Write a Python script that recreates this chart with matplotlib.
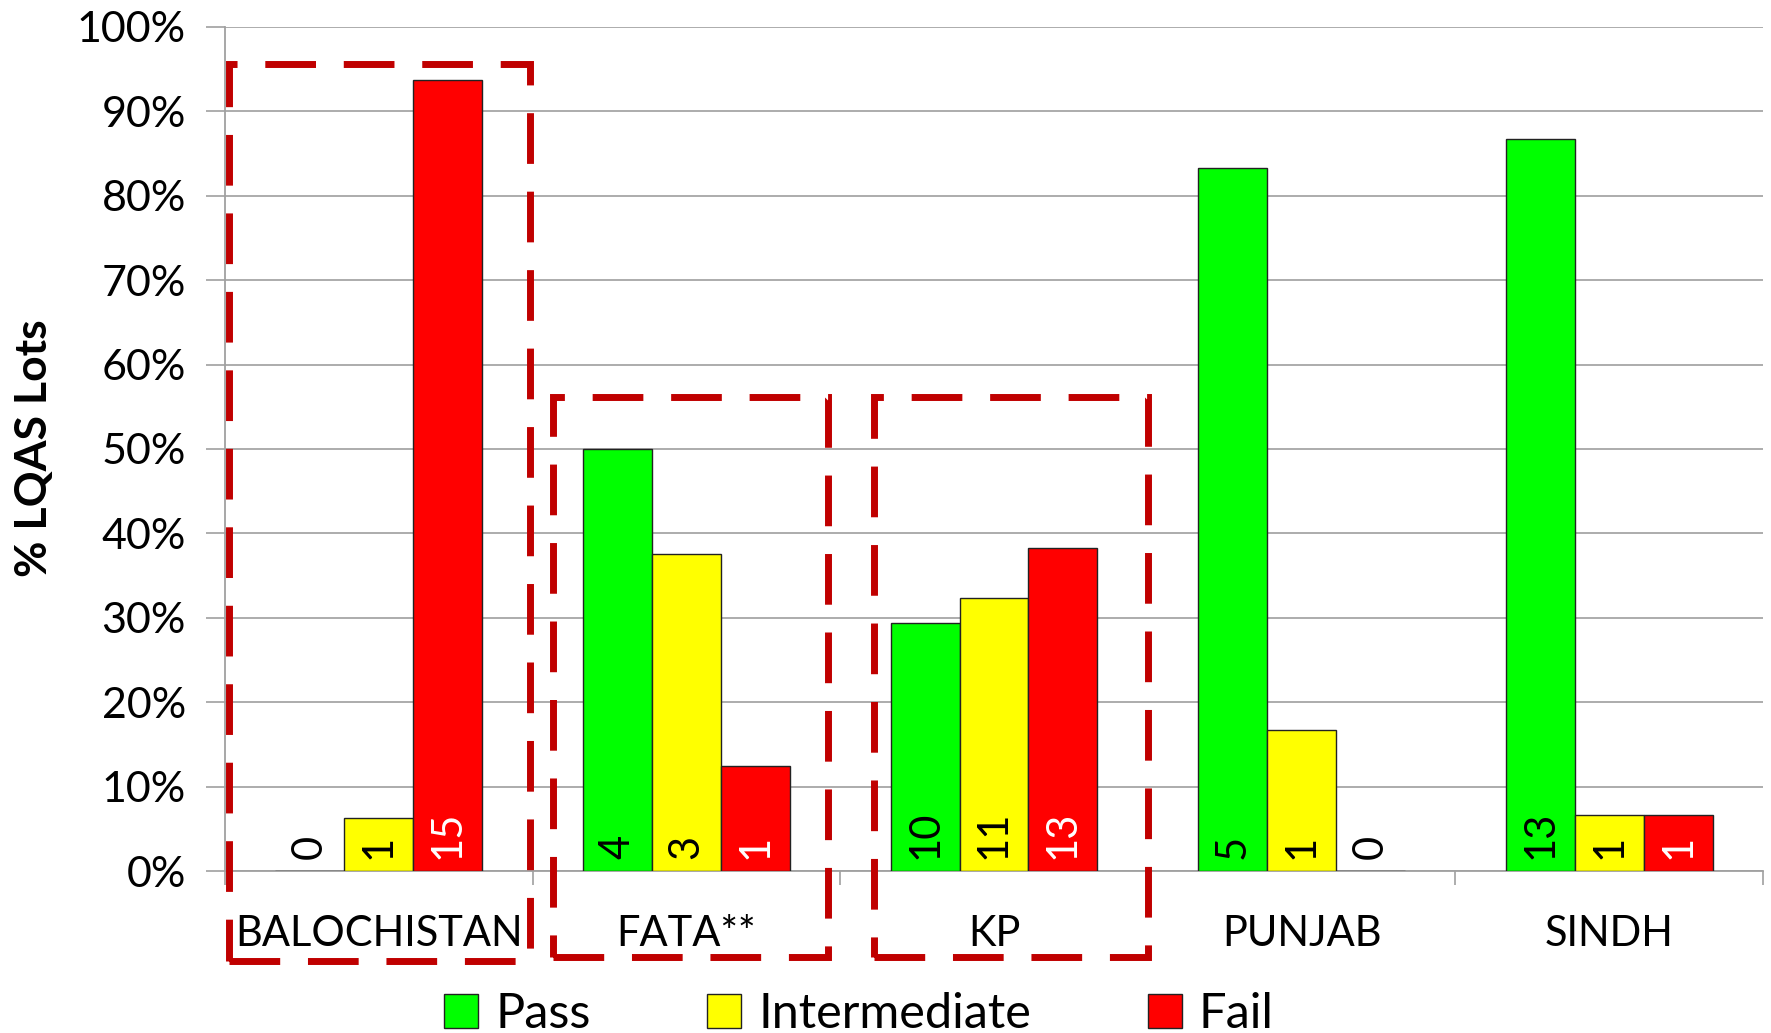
import matplotlib
matplotlib.use("Agg")
import matplotlib.pyplot as plt
import numpy as np
from matplotlib.patches import Rectangle, Patch

# lot counts per province
provinces = ["BALOCHISTAN", "FATA**", "KP", "PUNJAB", "SINDH"]
pass_lots = [0, 4, 10, 5, 13]
intermediate_lots = [1, 3, 11, 1, 1]
fail_lots = [15, 1, 13, 0, 1]

series_names = ["Pass", "Intermediate", "Fail"]
series_colors = ["#00FF00", "#FFFF00", "#FF0000"]
label_colors = ["black", "black", "white"]

plt.rcParams["font.family"] = ["Lato", "DejaVu Sans"]

counts = np.array([pass_lots, intermediate_lots, fail_lots], dtype=float)
totals = counts.sum(axis=0)
percents = counts / totals * 100

fig = plt.figure(figsize=(17.71, 10.33), dpi=100)
ax = fig.add_axes([0.127, 0.1568, 0.8685, 0.8172])

x = np.arange(len(provinces))
width = 0.224
for i, name in enumerate(series_names):
    xs = x + (i - 1) * width
    ax.bar(xs, percents[i], width, color=series_colors[i], edgecolor="#222222",
           linewidth=1.0, label=name, zorder=3)
    for xi, pct, n in zip(xs, percents[i], counts[i]):
        col = label_colors[i] if n > 0 else "black"
        ax.annotate(f"{int(n)}", (xi, 0), xytext=(0, 9), textcoords="offset points",
                    rotation=90, ha="center", va="bottom", fontsize=30,
                    color=col, zorder=4)

ax.set_xlim(-0.5, len(provinces) - 0.5)
ax.set_ylim(0, 100)
ax.set_yticks(np.arange(0, 101, 10))
ax.set_yticklabels([f"{v}%" for v in range(0, 101, 10)], fontsize=31)
ax.set_xticks(x)
ax.set_xticklabels(provinces, fontsize=30)
ax.set_xticks(np.arange(-0.5, len(provinces)), minor=True)
ax.tick_params(axis="x", which="major", length=0, pad=32)
ax.tick_params(axis="x", which="minor", length=10, color="#a0a0a0", width=1.2)
ax.tick_params(axis="y", length=14, color="#a0a0a0", width=1.2, pad=14)
ax.yaxis.grid(True, color="#a6a6a6", linewidth=1.3, zorder=0)
ax.set_axisbelow(True)
for side in ["top", "right"]:
    ax.spines[side].set_visible(False)
for side in ["left", "bottom"]:
    ax.spines[side].set_color("#a0a0a0")
    ax.spines[side].set_linewidth(1.3)

fig.text(0.019, 0.566, "% LQAS Lots", rotation=90, ha="center", va="center",
         fontsize=32, fontweight="bold")

# dashed highlight boxes around the lagging provinces
boxes = [(0.1295, 0.070, 0.1696, 0.8677),
         (0.3125, 0.0732, 0.155, 0.5421),
         (0.4936, 0.0732, 0.1544, 0.5421)]
for bx, by, bw, bh in boxes:
    fig.add_artist(Rectangle((bx, by), bw, bh, transform=fig.transFigure,
                             fill=False, edgecolor="#C00000", linewidth=5,
                             linestyle=(0, (7.3, 4)), zorder=10))

handles = [Patch(facecolor=c, edgecolor="#222222", linewidth=1.0) for c in series_colors]
fig.legend(handles, series_names, loc="center", bbox_to_anchor=(0.485, 0.018),
           ncol=3, frameon=False, fontsize=35, handlelength=0.7, handleheight=0.7,
           handletextpad=0.35, columnspacing=2.4)

fig.savefig("out.png", dpi=100)
